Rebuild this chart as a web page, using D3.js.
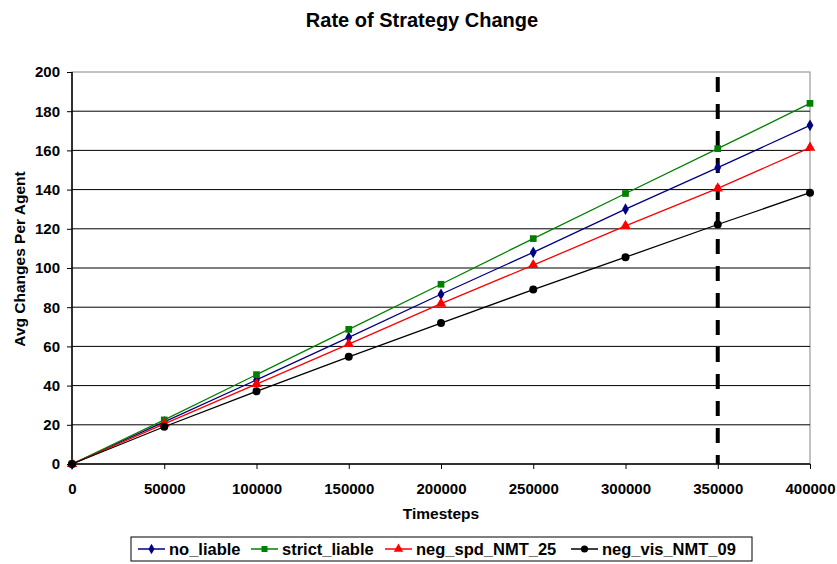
<!DOCTYPE html>
<html>
<head>
<meta charset="utf-8">
<script src="https://cdn.jsdelivr.net/npm/d3@7"></script>
<style>
  body { margin: 0; background: #fff; }
  text { font-family: Arial, "Liberation Sans", sans-serif; font-weight: bold; }
</style>
</head>
<body>
<script>
const WIDTH = 837;
const HEIGHT = 564;
const MARGIN = {top: 72, right: 27, bottom: 100, left: 72};

var timesteps = [0, 50000, 100000, 150000, 200000, 250000, 300000, 350000, 400000];
var noLiable = [0, 21.5, 42.9, 64.6, 86.6, 108, 130, 151.2, 172.8];
var strictLiable = [0, 22.5, 45.6, 68.7, 91.7, 115, 138, 160.9, 184];
var negSpd = [0, 20.5, 40.8, 61.2, 81.8, 101.5, 121.5, 140.6, 161.4];
var negVis = [0, 19, 37.1, 54.7, 71.9, 89, 105.5, 122.2, 138.4];
var seriesNames = ['no_liable', 'strict_liable', 'neg_spd_NMT_25', 'neg_vis_NMT_09'];
var xTicks = [0, 50000, 100000, 150000, 200000, 250000, 300000, 350000, 400000];
var yTicks = [0, 20, 40, 60, 80, 100, 120, 140, 160, 180, 200];
var markerLine = 350000;

var series = [
    {name: seriesNames[0], values: noLiable, color: '#000080', symbol: d3.symbolDiamond, size: 40},
    {name: seriesNames[1], values: strictLiable, color: '#008000', symbol: d3.symbolSquare, size: 45},
    {name: seriesNames[2], values: negSpd, color: '#ff0000', symbol: d3.symbolTriangle, size: 48},
    {name: seriesNames[3], values: negVis, color: '#000000', symbol: d3.symbolCircle, size: 50}
];

var svg = d3.select('body').append('svg')
    .attr('width', WIDTH)
    .attr('height', HEIGHT);

var plotW = WIDTH - MARGIN.left - MARGIN.right;
var plotH = HEIGHT - MARGIN.top - MARGIN.bottom;

var xScale = d3.scaleLinear().domain([0, 400000]).range([0, plotW]);
var yScale = d3.scaleLinear().domain([0, 200]).range([plotH, 0]);

svg.append('text')
    .attr('x', 422)
    .attr('y', 27)
    .attr('text-anchor', 'middle')
    .attr('font-size', '20px')
    .text('Rate of Strategy Change');

var g = svg.append('g')
    .attr('transform', 'translate(' + MARGIN.left + ',' + MARGIN.top + ')');

// plot frame (top/right gray)
g.append('rect')
    .attr('x', 0).attr('y', 0)
    .attr('width', plotW).attr('height', plotH)
    .attr('fill', 'none')
    .attr('stroke', '#999')
    .attr('stroke-width', 1.2);

// gridlines
g.selectAll('.grid')
    .data(yTicks.filter(function (d) { return d > 0 && d < 200; }))
    .enter().append('line')
    .attr('x1', 0).attr('x2', plotW)
    .attr('y1', function (d) { return yScale(d); })
    .attr('y2', function (d) { return yScale(d); })
    .attr('stroke', '#000')
    .attr('stroke-width', 1);

var yAxis = d3.axisLeft(yScale).tickValues(yTicks).tickSize(5).tickPadding(7);
var xAxis = d3.axisBottom(xScale).tickValues(xTicks).tickSize(5).tickPadding(14)
    .tickFormat(d3.format('d'));

var yg = g.append('g').call(yAxis);
var xg = g.append('g').attr('transform', 'translate(0,' + plotH + ')').call(xAxis);
[yg, xg].forEach(function (a) {
    a.select('.domain').attr('stroke', '#000').attr('stroke-width', 1.5);
    a.selectAll('.tick line').attr('stroke', '#000');
    a.selectAll('.tick text')
        .attr('font-size', '15px')
        .attr('font-weight', 'bold')
        .attr('font-family', 'Arial, "Liberation Sans", sans-serif')
        .attr('fill', '#000');
});
yg.select('.domain').attr('d', 'M0,' + plotH + 'V0');
xg.select('.domain').attr('d', 'M0,0H' + plotW);

// dashed marker line
g.append('line')
    .attr('x1', xScale(markerLine)).attr('x2', xScale(markerLine))
    .attr('y1', 5).attr('y2', plotH)
    .attr('stroke', '#000')
    .attr('stroke-width', 4)
    .attr('stroke-dasharray', '15,12');

var line = d3.line()
    .x(function (d, i) { return xScale(timesteps[i]); })
    .y(function (d) { return yScale(d); });

series.forEach(function (s) {
    g.append('path')
        .attr('d', line(s.values))
        .attr('fill', 'none')
        .attr('stroke', s.color)
        .attr('stroke-width', 1.3);
    g.selectAll(null)
        .data(s.values)
        .enter().append('path')
        .attr('transform', function (d, i) {
            return 'translate(' + xScale(timesteps[i]) + ',' + yScale(d) + ')';
        })
        .attr('d', d3.symbol().type(s.symbol).size(s.size))
        .attr('fill', s.color);
});

// axis titles
svg.append('text')
    .attr('x', 441)
    .attr('y', 519)
    .attr('text-anchor', 'middle')
    .attr('font-size', '15.5px')
    .text('Timesteps');

svg.append('text')
    .attr('transform', 'translate(25,259) rotate(-90)')
    .attr('text-anchor', 'middle')
    .attr('font-size', '15.5px')
    .text('Avg Changes Per Agent');

// legend
var legend = svg.append('g').attr('transform', 'translate(131,537)');
legend.append('rect')
    .attr('x', 0).attr('y', 0)
    .attr('width', 621).attr('height', 24)
    .attr('fill', '#fff')
    .attr('stroke', '#000')
    .attr('stroke-width', 1);

var legendX = [7, 120, 254, 440];
series.forEach(function (s, i) {
    var item = legend.append('g').attr('transform', 'translate(' + legendX[i] + ',12)');
    item.append('line')
        .attr('x1', 0).attr('x2', 27)
        .attr('stroke', s.color).attr('stroke-width', 1.5);
    item.append('path')
        .attr('transform', 'translate(13.5,0)')
        .attr('d', d3.symbol().type(s.symbol).size(s.size * 0.8))
        .attr('fill', s.color);
    item.append('text')
        .attr('x', 31)
        .attr('y', 6)
        .attr('font-size', '16.5px')
        .text(s.name);
});
</script>
</body>
</html>
